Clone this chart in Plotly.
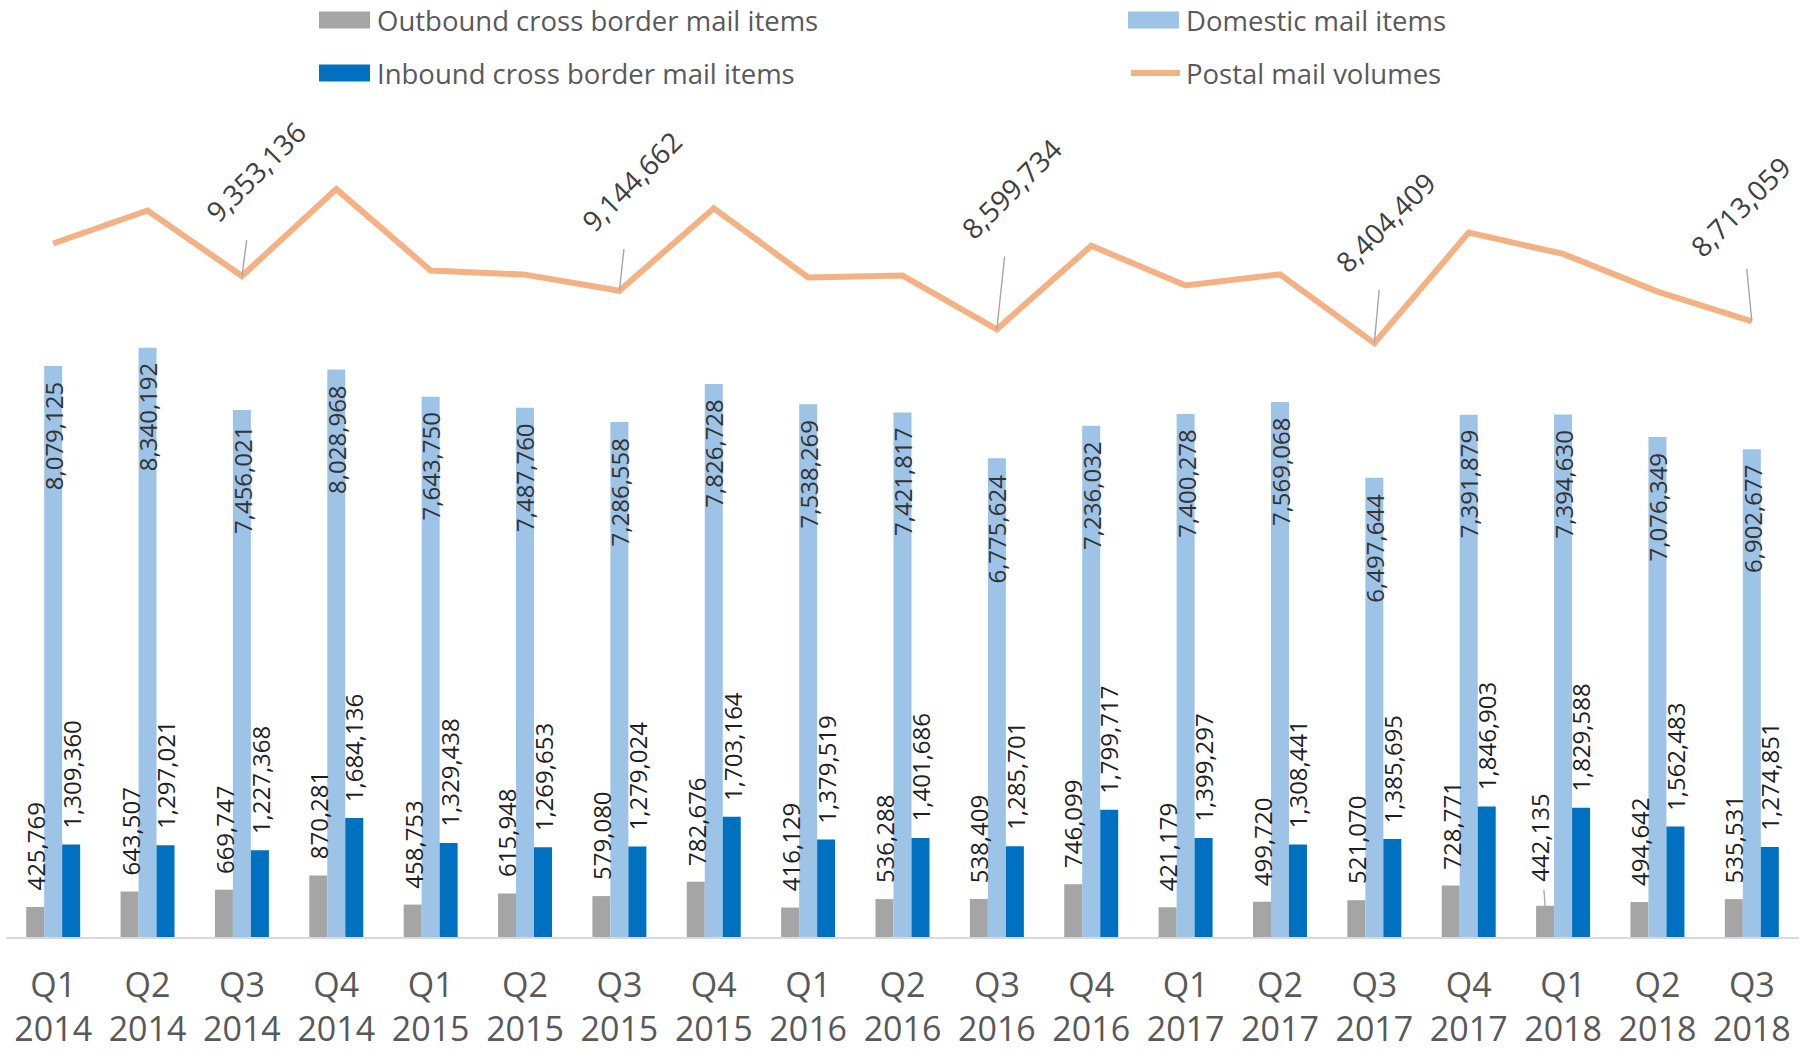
import plotly.graph_objects as go

# ---------------- data ----------------
quarters = ["Q1", "Q2", "Q3", "Q4", "Q1", "Q2", "Q3", "Q4", "Q1", "Q2",
            "Q3", "Q4", "Q1", "Q2", "Q3", "Q4", "Q1", "Q2", "Q3"]
years = ["2014", "2014", "2014", "2014", "2015", "2015", "2015", "2015", "2016", "2016",
         "2016", "2016", "2017", "2017", "2017", "2017", "2018", "2018", "2018"]
outbound = [425769, 643507, 669747, 870281, 458753, 615948, 579080, 782676, 416129, 536288,
            538409, 746099, 421179, 499720, 521070, 728771, 442135, 494642, 535531]
domestic = [8079125, 8340192, 7456021, 8028968, 7643750, 7487760, 7286558, 7826728, 7538269, 7421817,
            6775624, 7236032, 7400278, 7569068, 6497644, 7391879, 7394630, 7076349, 6902677]
inbound = [1309360, 1297021, 1227368, 1684136, 1329438, 1269653, 1279024, 1703164, 1379519, 1401686,
           1285701, 1799717, 1399297, 1308441, 1385695, 1846903, 1829588, 1562483, 1274851]
postal = [9814254, 10280720, 9353136, 10583385, 9431941, 9373361, 9144662, 10312568, 9333917, 9359791,
          8599734, 9781848, 9220754, 9377229, 8404409, 9967553, 9666353, 9133474, 8713059]
postal_labelled = ["Q3 2014", "Q3 2015", "Q3 2016", "Q3 2017", "Q3 2018"]

categories = [f"{q} {y}" for q, y in zip(quarters, years)]
tick_labels = [f"{q}<br>{y}" for q, y in zip(quarters, years)]

# ---------------- style ----------------
FONT = "Open Sans"
W, H = 1806, 1057
ML, MR, MT, MB = 6, 7, 89, 120
PW, PH = W - ML - MR, H - MT - MB
C_OUT, C_DOM, C_IN, C_LINE = "#A5A5A5", "#9DC3E6", "#0070C0", "#F4B183"
BAR_PX = 18          # width of one bar in px
LABEL_GAP = 14       # gap between bar end and its label
LABEL_SIZE = 24
line_label_offsets = [(14, -105), (12, -110), (15, -141), (11, -121), (-11, -115)]


def px_x(x):
    return (x - ML) / PW


def px_y(y):
    return (MT + PH - y) / PH


fig = go.Figure()
fig.add_trace(go.Bar(x=categories, y=outbound, name="Outbound cross border mail items",
                     marker=dict(color=C_OUT, line=dict(width=0))))
fig.add_trace(go.Bar(x=categories, y=domestic, name="Domestic mail items",
                     marker=dict(color=C_DOM, line=dict(width=0))))
fig.add_trace(go.Bar(x=categories, y=inbound, name="Inbound cross border mail items",
                     marker=dict(color=C_IN, line=dict(width=0))))
fig.add_trace(go.Scatter(x=categories, y=postal, name="Postal mail volumes", mode="lines",
                         line=dict(color=C_LINE, width=6)))

annotations = []
# bar data labels
for cat, v in zip(categories, outbound):
    a = dict(x=cat, y=v, xref="x", yref="y", text=f"{v:,}", textangle=-90,
             xshift=-BAR_PX, font=dict(family=FONT, size=LABEL_SIZE, color="#1f1f1f"))
    if cat == "Q1 2018":
        a.update(showarrow=True, arrowhead=0, arrowwidth=1.3, arrowcolor="#A6A6A6",
                 ax=-5, ay=-68, startstandoff=6)
    else:
        a.update(showarrow=False, yanchor="bottom", yshift=LABEL_GAP)
    annotations.append(a)
for cat, v in zip(categories, domestic):
    annotations.append(dict(x=cat, y=v, xref="x", yref="y", text=f"{v:,}", textangle=-90,
                            showarrow=False, yanchor="top", yshift=-LABEL_GAP,
                            font=dict(family=FONT, size=LABEL_SIZE, color="#333333")))
for cat, v in zip(categories, inbound):
    annotations.append(dict(x=cat, y=v, xref="x", yref="y", text=f"{v:,}", textangle=-90,
                            showarrow=False, yanchor="bottom", yshift=LABEL_GAP, xshift=BAR_PX,
                            font=dict(family=FONT, size=LABEL_SIZE, color="#1f1f1f")))
# line labels with leader lines
for (cat, (ax, ay)) in zip(postal_labelled, line_label_offsets):
    v = postal[categories.index(cat)]
    annotations.append(dict(x=cat, y=v, xref="x", yref="y", text=f"{v:,}", textangle=-45,
                            showarrow=True, arrowhead=0, arrowwidth=1.4, arrowcolor="#A6A6A6",
                            ax=ax, ay=ay, startstandoff=36,
                            font=dict(family=FONT, size=28, color="#404040")))

# custom legend
legend_items = [
    ("Outbound cross border mail items", C_OUT, "rect", 319, 20),
    ("Inbound cross border mail items", C_IN, "rect", 319, 73),
    ("Domestic mail items", C_DOM, "rect", 1128, 20),
    ("Postal mail volumes", C_LINE, "line", 1128, 73),
]
shapes = []
for name, col, kind, x0, yc in legend_items:
    if kind == "rect":
        shapes.append(dict(type="rect", xref="paper", yref="paper",
                           x0=px_x(x0), x1=px_x(x0 + 51), y0=px_y(yc - 8.5), y1=px_y(yc + 8.5),
                           fillcolor=col, line=dict(width=0)))
    else:
        shapes.append(dict(type="line", xref="paper", yref="paper",
                           x0=px_x(x0 + 3), x1=px_x(x0 + 52), y0=px_y(yc), y1=px_y(yc),
                           line=dict(color=col, width=6)))
    annotations.append(dict(x=px_x(x0 + 56), y=px_y(yc), xref="paper", yref="paper",
                            text=name, showarrow=False, xanchor="left", yanchor="middle",
                            font=dict(family=FONT, size=27.5, color="#595959")))

fig.update_layout(
    width=W, height=H,
    margin=dict(l=ML, r=MR, t=MT, b=MB, pad=0, autoexpand=False),
    paper_bgcolor="white", plot_bgcolor="white",
    barmode="group", bargap=0.428, bargroupgap=0,
    showlegend=False,
    font=dict(family=FONT, color="#595959"),
    xaxis=dict(type="category", tickvals=categories, ticktext=tick_labels,
               range=[-0.5, len(categories) - 0.5], automargin=False,
               showline=True, linecolor="#D9D9D9", linewidth=2, ticks="",
               showgrid=False, zeroline=False, ticklabelstandoff=17,
               tickfont=dict(family=FONT, size=34, color="#595959")),
    yaxis=dict(range=[0, 12000000], showgrid=False, zeroline=False, showline=False,
               showticklabels=False, ticks="", automargin=False),
    annotations=annotations,
    shapes=shapes,
)

fig.write_html("out.html", config={"displayModeBar": False},
               post_script="document.body.style.margin='0';")
